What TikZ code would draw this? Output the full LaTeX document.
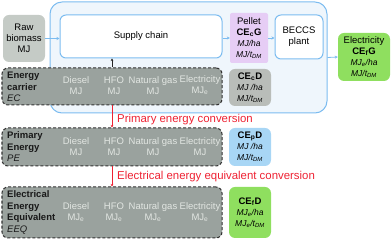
\documentclass[tikz,border=0pt]{standalone}
\usepackage{fontspec}
\setmainfont{Liberation Sans}
\usetikzlibrary{arrows.meta}
\definecolor{blueline}{HTML}{7CBCF0}
\definecolor{bluebg}{HTML}{EFF6FC}
\definecolor{rawgrey}{HTML}{C5CBC6}
\definecolor{lav}{HTML}{E6CDF5}
\definecolor{lgreen}{HTML}{8FDF5F}
\definecolor{dgrey}{HTML}{9AA29E}
\definecolor{mgrey}{HTML}{B9BDB9}
\definecolor{lblue}{HTML}{A8D6F5}
\definecolor{cellw}{HTML}{E2E6E2}
\definecolor{redc}{HTML}{EE2233}
\newcommand\ulab[1]{{\fontsize{8.5}{11}\selectfont\itshape #1}}
\begin{document}
\begin{tikzpicture}[x=1pt,y=-1pt,
  font=\fontsize{9.5}{11}\selectfont,
  bx/.style 2 args={minimum width=#1,minimum height=#2,inner sep=0pt,align=center,rounded corners=6pt},
  blueb/.style={draw=blueline,line width=1pt,fill=white},
  carrier/.style={draw=black!80,line width=1pt,dash pattern=on 3pt off 2pt,fill=dgrey},
  cell/.style={text=cellw,align=center,inner sep=0pt},
  lab/.style={anchor=west,align=left,inner sep=0pt,text=black!90,font=\fontsize{9.5}{11.5}\selectfont\bfseries},
  bluearrow/.style={draw=blueline,line width=0.8pt,-{Stealth[length=3pt,width=3pt]}},
  redarrow/.style={draw=redc,line width=0.6pt,-{Stealth[length=2.5pt,width=2.5pt]}},
  redlab/.style={anchor=west,text=redc,inner sep=0pt,font=\fontsize{11.4}{13}\selectfont}
]
\useasboundingbox (0,0) rectangle (392,240);

% outer box
\node[bx={277}{111},rounded corners=12pt,draw=blueline,line width=1pt,fill=bluebg] (outer) at (188.5,57.5) {};

% top row
\node[bx={42}{47},fill=rawgrey] (raw) at (24,38.5) {Raw\\biomass\\MJ};
\node[bx={162}{43},blueb] (supply) at (141,36.5) {Supply chain};
\node[bx={38}{50},fill=lav,rounded corners=2pt] (pellet) at (249,38) {Pellet\\\textbf{CE\textsubscript{c}G}\\\ulab{MJ/ha}\\\ulab{MJ/t\textsubscript{DM}}};
\node[bx={48}{44},blueb] (beccs) at (299,37) {BECCS\\plant};
\node[bx={52}{48},fill=lgreen] (elec) at (364,57) {Electricity\\\textbf{CE\textsubscript{f}G}\\\ulab{MJ\textsubscript{e}/ha}\\\ulab{MJ/t\textsubscript{DM}}};

\draw[bluearrow] (raw.east) -- (raw.east -| supply.west);
\draw[bluearrow] (supply.east |- pellet.west) -- (pellet.west);
\draw[bluearrow] (pellet.east) -- (pellet.east -| beccs.west);
\draw[bluearrow] (outer.east) -- (elec.west);

% energy carrier row
\node[bx={220}{37},carrier] (ec) at (112,86.5) {};
\node[bx={42}{37},fill=mgrey] (cecd) at (250,87.5) {\textbf{CE\textsubscript{c}D}\\\ulab{MJ /ha}\\\ulab{MJ/t\textsubscript{DM}}};
\node[lab] (eclab) at (7,87) {Energy\\carrier\\\textmd{\itshape EC}};
\node[cell] (ec1) at (76,85.5) {Diesel\\MJ};
\node[cell] (ec2) at (114,85.5) {HFO\\MJ};
\node[cell] (ec3) at (153,85.5) {Natural gas\\MJ};
\node[cell] (ec4) at (200,85.5) {Electricity\\MJ\textsubscript{e}};

% primary energy row
\node[bx={220}{38},carrier] (pe) at (112,147) {};
\node[bx={42}{38},fill=lblue] (cepd) at (250,147) {\textbf{CE\textsubscript{p}D}\\\ulab{MJ /ha}\\\ulab{MJ/t\textsubscript{DM}}};
\node[lab] (pelab) at (7,147) {Primary\\Energy\\\textmd{\itshape PE}};
\node[cell] (pe1) at (76,146.5) {Diesel\\MJ};
\node[cell] (pe2) at (114,146.5) {HFO\\MJ};
\node[cell] (pe3) at (153,146.5) {Natural gas\\MJ};
\node[cell] (pe4) at (200,146.5) {Electricity\\MJ};

% EEQ row
\node[bx={220}{51},carrier] (eeq) at (112,212.5) {};
\node[bx={42}{51},fill=lgreen] (cefd) at (250,212.5) {\textbf{CE\textsubscript{f}D}\\\ulab{MJ\textsubscript{e}/ha}\\\ulab{MJ\textsubscript{e}/t\textsubscript{DM}}};
\node[lab] (eeqlab) at (7,212.5) {Electrical\\Energy\\Equivalent\\\textmd{\itshape EEQ}};
\node[cell] (eq1) at (76,212.5) {Diesel\\MJ\textsubscript{e}};
\node[cell] (eq2) at (114,212.5) {HFO\\MJ\textsubscript{e}};
\node[cell] (eq3) at (153,212.5) {Natural gas\\MJ\textsubscript{e}};
\node[cell] (eq4) at (200,212.5) {Electricity\\MJ\textsubscript{e}};

% connectors
\draw[draw=black!85,line width=0.8pt,-{Stealth[length=2.5pt,width=2.5pt]}] (ec.north) -- (ec.north |- supply.south);
\draw[redarrow] (ec.south) -- (pe.north);
\draw[redarrow] (pe.south) -- (eeq.north);
\node[redlab] (conv1) at (117,120) {Primary energy conversion};
\node[redlab] (conv2) at (117,177) {Electrical energy equivalent conversion};
\end{tikzpicture}
\end{document}
